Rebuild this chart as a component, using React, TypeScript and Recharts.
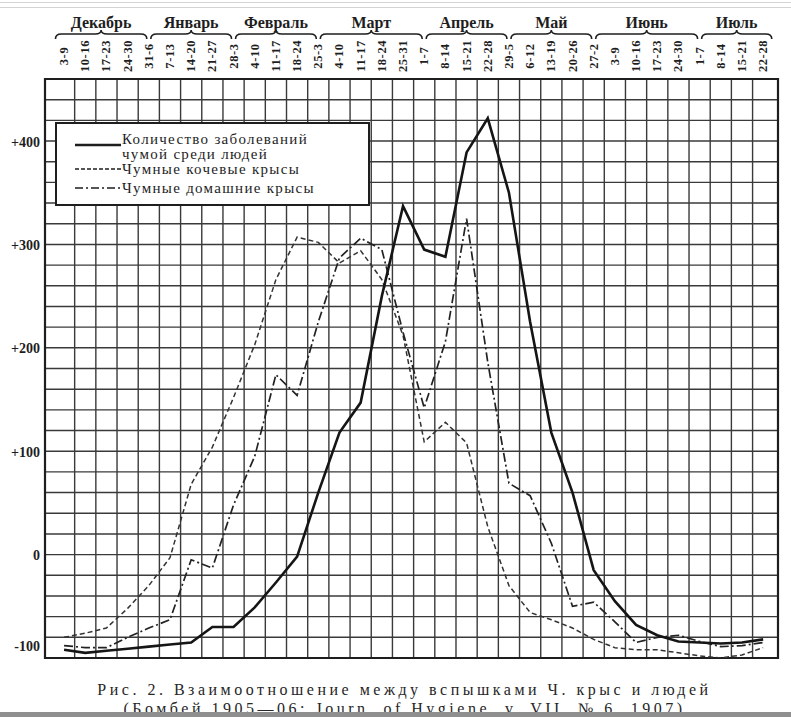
import React from 'react'
import { LineChart, Line, XAxis, YAxis, CartesianGrid, Legend, ReferenceArea } from 'recharts'

// week ranges (top axis), Dec 1905 – Jul 1906
const weeks = [
  '3-9', '10-16', '17-23', '24-30', '31-6', '7-13', '14-20', '21-27',
  '28-3', '4-10', '11-17', '18-24', '25-3', '4-10', '11-17', '18-24', '25-31',
  '1-7', '8-14', '15-21', '22-28', '29-5', '6-12', '13-19', '20-26',
  '27-2', '3-9', '10-16', '17-23', '24-30', '1-7', '8-14', '15-21', '22-28',
]

const months = ['Декабрь', 'Январь', 'Февраль', 'Март', 'Апрель', 'Май', 'Июнь', 'Июль']
const monthFrom = [-0.5, 4, 8, 12, 17, 21, 25, 30]
const monthTo = [4, 8, 12, 17, 21, 25, 30, 33.5]

const people = [-92, -95, -93, -91, -89, -87, -85, -70, -70, -51, -27, -2, 60, 118, 147, 250, 337, 295, 288, 389, 422, 350, 225, 118, 60, -15, -45, -68, -78, -84, -85, -86, -85, -82]
const nomadRats = [-80, -76, -71, -52, -30, -3, 68, 104, 152, 203, 266, 307, 302, 282, 294, 266, 212, 109, 128, 108, 27, -30, -56, -63, -71, -82, -90, -92, -92, -95, -98, -100, -97, -90]
const houseRats = [-88, -90, -90, -80, -71, -63, -5, -13, 48, 95, 174, 154, 225, 287, 306, 295, 215, 142, 206, 325, 186, 69, 57, 11, -50, -46, -65, -85, -80, -78, -84, -89, -88, -85]

const yTicks = [-100, 0, 100, 200, 300, 400]
const yLabels = ['-100', '0', '+100', '+200', '+300', '+400']

const data = weeks.map((w, i) => ({ i, week: w, people: people[i], nomad: nomadRats[i], house: houseRats[i] }))

const X_MIN = -0.9
const X_MAX = 33.7
const Y_MIN = -100
const Y_MAX = 460
const PLOT_W = 733
const BAND = PLOT_W / (X_MAX - X_MIN)

const gridX = weeks.slice(1).map((_, i) => i + 0.5)
const gridY: number[] = []
for (let v = Y_MIN; v <= Y_MAX; v += 20) gridY.push(v)
const monthCenters = months.map((_, k) => (monthFrom[k] + monthTo[k]) / 2)

const FONT = '"Liberation Serif", "DejaVu Serif", serif'
const INK = '#1e1e1e'

function WeekTick(props: any) {
  const { x, payload } = props
  return (
    <text
      transform={`translate(${x},56) rotate(-90)`}
      textAnchor="middle"
      dominantBaseline="central"
      fontFamily={FONT}
      fontWeight="bold"
      fontSize={12.5}
      letterSpacing={0.6}
      fill={INK}
    >
      {weeks[payload.value]}
    </text>
  )
}

function MonthTick(props: any) {
  const { x, payload } = props
  const k = monthCenters.indexOf(payload.value)
  if (k < 0) return null
  const half = ((monthTo[k] - monthFrom[k]) * BAND) / 2 - 2
  const l = x - half
  const r = x + half
  const b = 34
  const d = `M${l},${b + 5} Q${l},${b} ${l + 6},${b} L${x - 6},${b} Q${x},${b} ${x},${b - 4} Q${x},${b} ${x + 6},${b} L${r - 6},${b} Q${r},${b} ${r},${b + 5}`
  return (
    <g>
      <path d={d} fill="none" stroke={INK} strokeWidth={1.6} />
      <text x={x} y={22} textAnchor="middle" dominantBaseline="central" fontFamily={FONT} fontWeight="bold" fontSize={16} fill={INK}>
        {months[k]}
      </text>
    </g>
  )
}

function YTick(props: any) {
  const { y, payload } = props
  const k = yTicks.indexOf(payload.value)
  const nudge = payload.value === Y_MIN ? -12 : 1
  return (
    <text x={40} y={y + nudge} textAnchor="end" dominantBaseline="central" fontFamily={FONT} fontWeight="bold" fontSize={14} fill={INK}>
      {yLabels[k]}
    </text>
  )
}

const legendRows = [
  { lines: ['Количество заболеваний', 'чумой среди людей'], dash: undefined, width: 2.6, sampleY: 21, textY: 15 },
  { lines: ['Чумные кочевые крысы'], dash: '4 2', width: 1.4, sampleY: 45, textY: 45 },
  { lines: ['Чумные домашние крысы'], dash: '8 3 2 3', width: 1.6, sampleY: 64, textY: 64 },
]

function LegendBox() {
  return (
    <div style={{ width: 311, height: 80, border: `2px solid ${INK}`, background: '#fff' }}>
      <svg width={311} height={80}>
        {legendRows.map((row) => (
          <g key={row.lines[0]}>
            <line x1={18} x2={64} y1={row.sampleY} y2={row.sampleY} stroke={INK} strokeWidth={row.width} strokeDasharray={row.dash} />
            {row.lines.map((t, j) => (
              <text
                key={t}
                x={65}
                y={row.textY + j * 15}
                dominantBaseline="central"
                fontFamily={FONT}
                fontSize={15}
                letterSpacing={1.3}
                fill={INK}
              >
                {t}
              </text>
            ))}
          </g>
        ))}
      </svg>
    </div>
  )
}

export default function App() {
  return (
    <div style={{ position: 'absolute', left: 0, top: 0, width: 791, height: 717, background: '#fff', overflow: 'hidden' }}>
      <div style={{ position: 'absolute', left: 0, top: 2, width: 791, height: 4, borderTop: '1px solid #d4d4d4', borderBottom: '1px solid #d4d4d4' }} />
      <LineChart width={791} height={717} data={data} margin={{ top: 0, right: 13, bottom: 59, left: 0 }}>
        <XAxis
          xAxisId="wk"
          type="number"
          dataKey="i"
          orientation="top"
          domain={[X_MIN, X_MAX]}
          allowDataOverflow
          ticks={weeks.map((_, i) => i)}
          interval={0}
          height={50}
          axisLine={false}
          tickLine={false}
          tick={<WeekTick />}
        />
        <XAxis
          xAxisId="mo"
          type="number"
          dataKey="i"
          orientation="top"
          domain={[X_MIN, X_MAX]}
          allowDataOverflow
          ticks={monthCenters}
          interval={0}
          height={29}
          axisLine={false}
          tickLine={false}
          tick={<MonthTick />}
        />
        <YAxis
          yAxisId="v"
          type="number"
          domain={[Y_MIN, Y_MAX]}
          allowDataOverflow
          ticks={yTicks}
          interval={0}
          width={45}
          axisLine={false}
          tickLine={false}
          tick={<YTick />}
        />
        <CartesianGrid
          xAxisId="wk"
          yAxisId="v"
          verticalValues={gridX}
          horizontalValues={gridY}
          stroke="#3a3a3a"
          strokeWidth={1.4}
        />
        <ReferenceArea
          xAxisId="wk"
          yAxisId="v"
          x1={X_MIN}
          x2={X_MAX}
          y1={Y_MIN}
          y2={Y_MAX}
          fill="none"
          stroke={INK}
          strokeWidth={2.2}
          ifOverflow="visible"
        />
        <Legend
          layout="vertical"
          align="center"
          verticalAlign="middle"
          content={<LegendBox />}
          wrapperStyle={{ left: 55, top: 122, width: 315, height: 84 }}
        />
        <Line xAxisId="wk" yAxisId="v" type="linear" dataKey="nomad" stroke="#333" strokeWidth={1.5} strokeDasharray="5 3" dot={false} isAnimationActive={false} />
        <Line xAxisId="wk" yAxisId="v" type="linear" dataKey="house" stroke="#222" strokeWidth={1.7} strokeDasharray="9 3 2 3" dot={false} isAnimationActive={false} />
        <Line xAxisId="wk" yAxisId="v" type="linear" dataKey="people" stroke="#151515" strokeWidth={2.6} dot={false} isAnimationActive={false} />
      </LineChart>
      <div
        style={{
          position: 'absolute',
          left: 0,
          top: 680,
          width: 791,
          textAlign: 'center',
          fontFamily: FONT,
          fontSize: 16,
          letterSpacing: 3.5,
          lineHeight: '19px',
          color: '#262626',
          paddingLeft: 18,
          boxSizing: 'border-box',
          whiteSpace: 'nowrap',
        }}
      >
        <div>Рис. 2. Взаимоотношение между вспышками Ч. крыс и людей</div>
        <div>(Бомбей 1905—06; Journ. of Hygiene, v. VII, № 6, 1907)</div>
      </div>
      <div style={{ position: 'absolute', left: 0, top: 712, width: 791, height: 5, background: '#8f8f8f' }} />
    </div>
  )
}
